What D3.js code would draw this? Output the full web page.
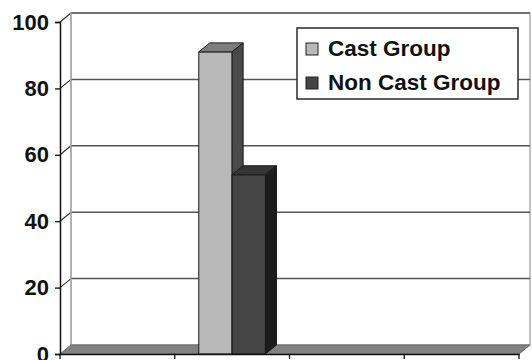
<!DOCTYPE html>
<html>
<head>
<meta charset="utf-8">
<script src="https://cdn.jsdelivr.net/npm/d3@7"></script>
<style>
  body { margin: 0; background: #fff; }
  text { font-family: "Liberation Sans", Arial, sans-serif; fill: #111; }
</style>
</head>
<body>
<div id="chart"></div>
<script>
// data
let categories = ["A", "B", "C", "D"];
let seriesNames = ["Cast Group", "Non Cast Group"];
let castValues = [0, 91, 0, 0];
let nonCastValues = [0, 54, 0, 0];
let yTicks = [0, 20, 40, 60, 80, 100];

let width = 532, height = 360;
let dx = 11, dy = -9; // 3d depth offset

let svg = d3.select("#chart").append("svg")
    .attr("width", width)
    .attr("height", height);

let x = d3.scaleBand().domain(categories).range([60, 519]).padding(0);
let xInner = d3.scaleBand().domain(seriesNames).range([0, x.bandwidth()]).paddingInner(0).paddingOuter(0.72);
let y = d3.scaleLinear().domain([0, 100]).range([354, 22]);

let colors = {
    "Cast Group": { front: "#b9b9b9", top: "#7d7d7d", side: "#4a4a4a" },
    "Non Cast Group": { front: "#454545", top: "#353535", side: "#1c1c1c" }
};

// back wall
svg.append("rect")
    .attr("x", x.range()[0] + dx).attr("y", y(100) + dy)
    .attr("width", x.range()[1] - x.range()[0]).attr("height", y(0) - y(100))
    .attr("fill", "#fff").attr("stroke", "#9a9a9a").attr("stroke-width", 1.2);

// gridlines on back wall and side wall
yTicks.filter(d => d > 0).forEach(v => {
    svg.append("line")
        .attr("x1", x.range()[0] + dx).attr("x2", x.range()[1] + dx)
        .attr("y1", y(v) + dy).attr("y2", y(v) + dy)
        .attr("stroke", "#555").attr("stroke-width", 1.5);
    svg.append("line")
        .attr("x1", x.range()[0]).attr("x2", x.range()[0] + dx)
        .attr("y1", y(v)).attr("y2", y(v) + dy)
        .attr("stroke", "#333").attr("stroke-width", 1.2);
});

// left side wall edge
svg.append("line")
    .attr("x1", x.range()[0] + dx).attr("x2", x.range()[0] + dx)
    .attr("y1", y(100) + dy).attr("y2", y(0) + dy)
    .attr("stroke", "#aaa").attr("stroke-width", 1.5);

// floor
let x0 = x.range()[0], x1 = x.range()[1], y0 = y(0);
svg.append("path")
    .attr("d", `M${x0},${y0}L${x1},${y0}L${x1 + dx},${y0 + dy}L${x0 + dx},${y0 + dy}Z`)
    .attr("fill", "#828282").attr("stroke", "#666").attr("stroke-width", 1);

// bars
let bars = [];
categories.forEach((c, i) => {
    bars.push({ cat: c, series: "Cast Group", value: castValues[i] });
    bars.push({ cat: c, series: "Non Cast Group", value: nonCastValues[i] });
});

let barG = svg.append("g");
bars.filter(d => d.value > 0).forEach(d => {
    let bx = x(d.cat) + xInner(d.series);
    let bw = xInner.bandwidth();
    let by = y(d.value);
    let col = colors[d.series];
    let g = barG.append("g").attr("stroke", "#1a1a1a").attr("stroke-width", 1).attr("stroke-linejoin", "round");
    g.append("rect")
        .attr("x", bx).attr("y", by)
        .attr("width", bw).attr("height", y0 - by)
        .attr("fill", col.front);
    g.append("path")
        .attr("d", `M${bx},${by}L${bx + bw},${by}L${bx + bw + dx},${by + dy}L${bx + dx},${by + dy}Z`)
        .attr("fill", col.top);
    g.append("path")
        .attr("d", `M${bx + bw},${by}L${bx + bw + dx},${by + dy}L${bx + bw + dx},${y0 + dy}L${bx + bw},${y0}Z`)
        .attr("fill", col.side);
});

// y axis
let yAxis = svg.append("g")
    .attr("transform", `translate(${x0},0)`)
    .call(d3.axisLeft(y).tickValues(yTicks).tickSize(5).tickPadding(6));
yAxis.select(".domain").attr("stroke", "#111").attr("stroke-width", 1.5);
yAxis.selectAll(".tick line").attr("stroke", "#111").attr("stroke-width", 1.3);
yAxis.selectAll(".tick text")
    .style("font-family", "'Liberation Sans', Arial, sans-serif")
    .style("font-size", "22px").style("font-weight", "bold").attr("fill", "#111");

// x axis (no labels)
let xAxis = svg.append("g")
    .attr("transform", `translate(0,${y0})`)
    .call(d3.axisBottom(x).tickSize(0).tickFormat(""));
xAxis.select(".domain").attr("stroke", "#111").attr("stroke-width", 1.5);
xAxis.selectAll(".tick").remove();
let bounds = categories.map(c => x(c)).concat([x1]);
xAxis.selectAll("line.sep").data(bounds).enter().append("line")
    .attr("class", "sep")
    .attr("x1", d => d).attr("x2", d => d)
    .attr("y1", 0).attr("y2", 5)
    .attr("stroke", "#111").attr("stroke-width", 1.3);

// legend
let legend = svg.append("g").attr("transform", "translate(297,28)");
legend.append("rect")
    .attr("width", 221).attr("height", 71)
    .attr("fill", "#fff").attr("stroke", "#2a2a2a").attr("stroke-width", 1.5);
seriesNames.forEach((s, i) => {
    let row = legend.append("g").attr("transform", `translate(9,${15 + i * 34})`);
    row.append("rect")
        .attr("width", 12).attr("height", 12)
        .attr("fill", colors[s].front).attr("stroke", "#222").attr("stroke-width", 1);
    row.append("text")
        .attr("x", 22).attr("y", 13)
        .style("font-size", "22.5px")
        .style("font-weight", "bold")
        .text(s);
});
</script>
</body>
</html>
